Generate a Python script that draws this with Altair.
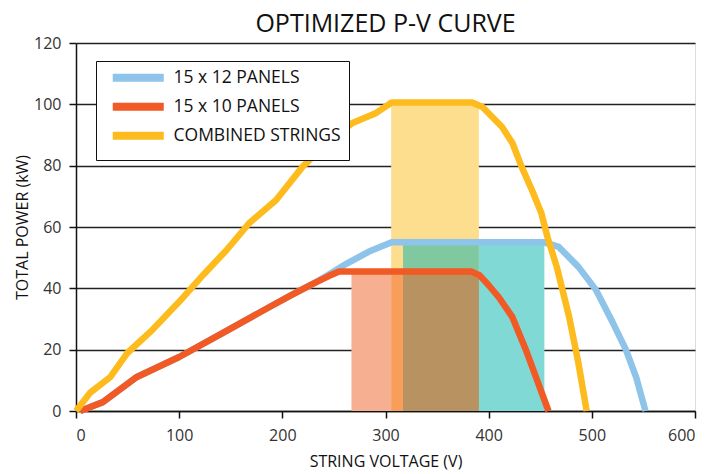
import altair as alt
import pandas as pd

# ---- data ----
series_names = ["15 x 12 PANELS", "15 x 10 PANELS", "COMBINED STRINGS"]
series_colors = ["#8EC3EA", "#F15A24", "#FDBB1E"]

v_12 = [4, 26, 59, 100, 142, 188, 210, 230, 245, 262, 284, 306, 454, 468, 487, 504, 519, 533, 543, 552]
p_12 = [0, 2.9, 11.1, 17.6, 25.4, 34, 38, 41.5, 44.5, 48, 52, 55, 55, 53.5, 47, 39.5, 29.7, 20, 11, 0]

v_10 = [4, 26, 59, 100, 142, 188, 210, 230, 245, 255, 383, 391, 400, 410, 423, 436, 447, 458]
p_10 = [0, 2.9, 11.1, 17.6, 25.4, 34, 38, 41.5, 44, 45.5, 45.5, 44.3, 41, 37, 30.6, 20, 10, 0]

v_comb = [0, 13.5, 33, 50, 72, 100, 123, 146, 168, 194, 219.5, 243, 268, 291, 306, 384,
          394, 413, 423, 432, 442, 451, 457, 466, 478, 487, 495]
p_comb = [0, 5.9, 11, 19, 25.8, 35.6, 44.3, 52.5, 61.3, 68.8, 79.6, 87.4, 93.9, 97.2, 100.6, 100.6,
          99.1, 92.6, 87.4, 79.6, 72, 64.6, 56.7, 47, 30.7, 15.6, 0]

# shaded operating windows (drawn as non-overlapping coloured pieces)
band_x1 = [305.5, 390.5, 317, 267, 305.5, 317]
band_x2 = [390.5, 454, 390.5, 305.5, 317, 390.5]
band_y2 = [100.5, 54.5, 54.5, 45, 45, 45]
band_colors = ["#FDDE8F", "#80D9D5", "#80C9A0", "#F6AF91", "#F89D5A", "#B89260"]

x_ticks = [0, 100, 200, 300, 400, 500, 600]
y_ticks = [0, 20, 40, 60, 80, 100, 120]

FONT = "Open Sans"

lines_df = pd.concat([
    pd.DataFrame({"V": v_12, "P": p_12, "series": series_names[0]}),
    pd.DataFrame({"V": v_10, "P": p_10, "series": series_names[1]}),
    pd.DataFrame({"V": v_comb, "P": p_comb, "series": series_names[2]}),
])
bands_df = pd.DataFrame({"x1": band_x1, "x2": band_x2, "y1": [0] * len(band_x1),
                         "y2": band_y2, "c": band_colors})

x_scale = alt.Scale(domain=[0, 600], nice=False)
y_scale = alt.Scale(domain=[0, 120], nice=False)

x_axis = alt.Axis(title="STRING VOLTAGE (V)", values=x_ticks, grid=False,
                  domainColor="#111", domainWidth=1.5, tickColor="#111", tickWidth=1.5,
                  tickSize=7, labelFontSize=16, labelColor="#333", labelFont=FONT,
                  labelPadding=9, titleFont=FONT, titleFontSize=16, titleFontWeight="normal",
                  titleColor="#111", titlePadding=10)
y_axis = alt.Axis(title="TOTAL POWER (kW)", values=y_ticks, grid=True,
                  gridColor="#222", gridWidth=1.5, gridOpacity=1,
                  domainColor="#111", domainWidth=1.5, tickColor="#111", tickWidth=1.5,
                  tickSize=7, labelFontSize=16, labelColor="#333", labelFont=FONT,
                  labelPadding=8, titleFont=FONT, titleFontSize=16, titleFontWeight="normal",
                  titleColor="#111", titlePadding=3)

bands = alt.Chart(bands_df).mark_rect(opacity=1).encode(
    x=alt.X("x1:Q", scale=x_scale, axis=x_axis),
    x2="x2:Q",
    y=alt.Y("y1:Q", scale=y_scale, axis=y_axis),
    y2="y2:Q",
    fill=alt.Fill("c:N", scale=None, legend=None),
)

color_scale = alt.Scale(domain=series_names, range=series_colors)
legend = alt.Legend(title=None, orient="none", legendX=20, legendY=18,
                    symbolType="M0,0H12.75", symbolSize=64, symbolStrokeWidth=8,
                    labelFont=FONT, labelFontSize=17.5, labelColor="#111",
                    fillColor="white", strokeColor="#111", padding=8,
                    rowPadding=-4, labelOffset=52, labelLimit=400)


def line_for(name):
    return alt.Chart(lines_df).transform_filter(
        alt.datum.series == name
    ).mark_line(strokeWidth=6.5, strokeJoin="round").encode(
        x=alt.X("V:Q", scale=x_scale),
        y=alt.Y("P:Q", scale=y_scale),
        color=alt.Color("series:N", scale=color_scale, legend=legend,
                        sort=series_names),
        order=alt.Order("V:Q"),
    )


chart = alt.layer(
    bands,
    line_for(series_names[0]),
    line_for(series_names[1]),
    line_for(series_names[2]),
).properties(
    width=619,
    height=368,
    title=alt.TitleParams("OPTIMIZED P-V CURVE", font=FONT, fontSize=25,
                          fontWeight="normal", color="#111", anchor="middle",
                          frame="group", offset=-2),
    autosize=alt.AutoSizeParams(type="none"),
    padding={"left": 68, "top": 35, "right": 10, "bottom": 60},
).configure_view(stroke=None).configure(background="white")

chart.save("out.html", embed_options={"renderer": "svg", "actions": False})
